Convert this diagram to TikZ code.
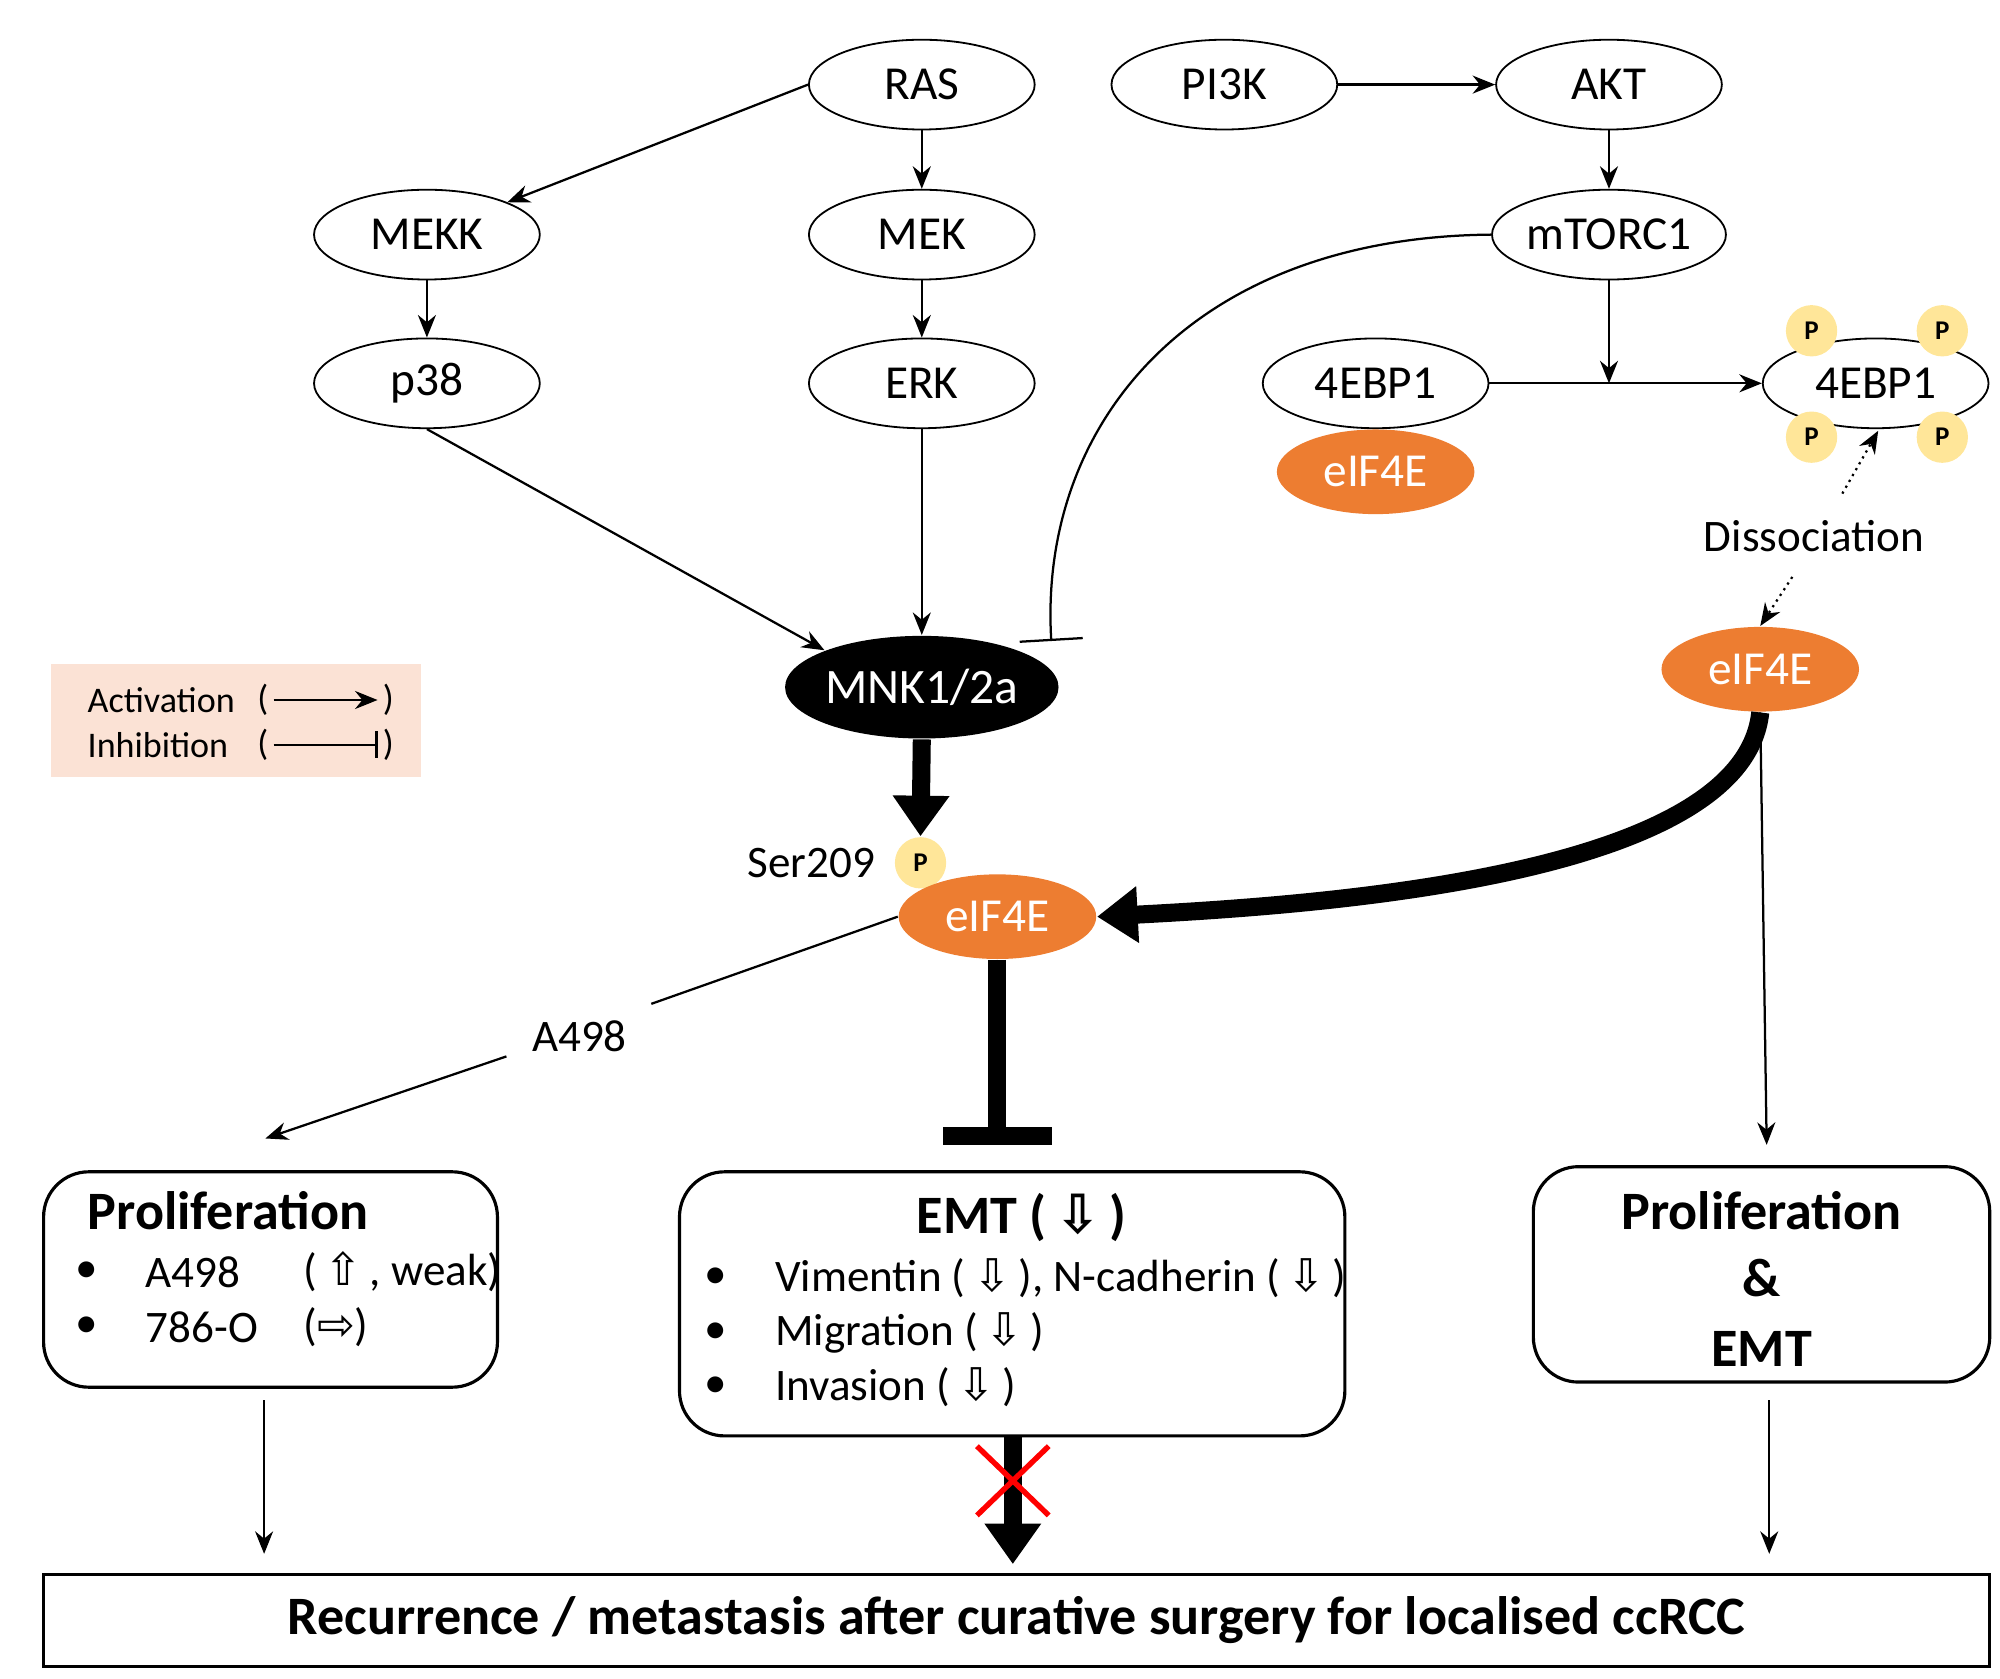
\documentclass[tikz,border=0pt]{standalone}
\usepackage{fontspec}
\setmainfont{Carlito}
\newfontfamily\dv{DejaVu Sans}
\usetikzlibrary{shapes.geometric,arrows.meta}
\definecolor{eor}{HTML}{ED7D31}
\definecolor{pyel}{HTML}{FFE699}
\definecolor{leg}{HTML}{FBE2D5}
\newcommand{\ua}{{\dv\char"21E7}}
\newcommand{\da}{{\dv\char"21E9}}
\newcommand{\ra}{{\dv\char"21E8}}
\begin{document}
\begin{tikzpicture}[x=0.01cm,y=-0.01cm,
  el/.style={ellipse,draw,minimum width=1.76cm,minimum height=0.7cm,font=\fontsize{10.5}{13}\selectfont,inner sep=0pt},
  eo/.style={ellipse,fill=eor,text=white,minimum width=1.54cm,minimum height=0.66cm,font=\fontsize{10.5}{13}\selectfont,inner sep=0pt},
  pc/.style={circle,fill=pyel,minimum size=0.4cm,inner sep=0pt,font=\fontsize{6}{7}\selectfont\bfseries\rmfamily},
  ar/.style={-{Stealth[length=5pt,width=4pt]},line width=0.5pt},
  thk/.style={line width=4pt},
  tx/.style={font=\fontsize{10}{12}\selectfont,inner sep=0pt},
  lt/.style={tx,anchor=west},
  box/.style={draw,rounded corners=10pt,line width=0.7pt}]
\useasboundingbox (0,0) rectangle (1560,1309);
% ellipses
\node[el] (ras) at (719,66) {RAS};
\node[el] (pi3k) at (955,66) {PI3K};
\node[el] (akt) at (1255,66) {AKT};
\node[el] (mekk) at (333,183) {MEKK};
\node[el] (mek) at (719,183) {MEK};
\node[el] (mtor) at (1255,183) {mTORC1};
\node[el] (p38) at (333,299) {p38};
\node[el] (erk) at (719,299) {ERK};
\node[el] (eb1) at (1073,299) {4EBP1};
\node[el] (eb2) at (1463,299) {4EBP1};
\node[eo] (e1) at (1073,368) {eIF4E};
\node[pc] (p1) at (1413,258) {P};
\node[pc] (p2) at (1515,258) {P};
\node[pc] (p3) at (1413,341) {P};
\node[pc] (p4) at (1515,341) {P};
\node[font=\fontsize{10}{12}\selectfont] (dis) at (1415,418) {Dissociation};
\node[eo] (e2) at (1373,522) {eIF4E};
\node[ellipse,fill=black,text=white,minimum width=2.12cm,minimum height=0.8cm,font=\fontsize{11}{13}\selectfont,inner sep=0pt] (mnk) at (719,536) {MNK1/2a};
\node[pc] (ps) at (718,673) {P};
\node[font=\fontsize{10}{12}\selectfont,anchor=east] (ser) at (695,673) {Ser209};
\node[eo] (e3) at (778,715) {eIF4E};
\node[font=\fontsize{10}{12}\selectfont] (a498) at (452,808) {A498};
% legend
\fill[leg] (40,518) rectangle (328,606);
\node[anchor=west,font=\fontsize{8}{10}\selectfont] (lact) at (56,546) {Activation};
\node[anchor=west,font=\fontsize{8}{10}\selectfont] (linh) at (56,581) {Inhibition};
\node[font=\fontsize{8}{10}\selectfont,inner sep=1pt] (lp1) at (205,546) {(};
\node[font=\fontsize{8}{10}\selectfont,inner sep=1pt] (lp2) at (303,546) {)};
\node[font=\fontsize{8}{10}\selectfont,inner sep=1pt] (lp3) at (205,581) {(};
\node[font=\fontsize{8}{10}\selectfont,inner sep=1pt] (lp4) at (303,581) {)};
\draw[ar] (lp1.east) -- (lp2.west);
\draw[line width=0.5pt,-{Bar[width=6pt]}] (lp3.east) -- (lp4.west);
% boxes
\draw[box] (34,914) rectangle (388,1082);
\node[anchor=west,font=\fontsize{12}{14}\selectfont\bfseries] (bl) at (56,944) {Proliferation};
\node[lt] (b1a) at (58,992) {•};
\node[lt] (b1b) at (113,992) {A498};
\node[lt] (b1c) at (236,992) {(\,\ua\,, weak)};
\node[lt] (b2a) at (58,1035) {•};
\node[lt] (b2b) at (113,1035) {786-O};
\node[lt] (b2c) at (236,1035) {(\ra)};
\draw[box] (530,914) rectangle (1049,1120);
\node[font=\fontsize{12}{14}\selectfont\bfseries] (bm) at (797,950) {EMT (\,\da\,)};
\node[lt] (m1a) at (549,997) {•};
\node[lt] (m1b) at (604,997) {Vimentin (\,\da\,), N-cadherin (\,\da\,)};
\node[lt] (m2a) at (549,1040) {•};
\node[lt] (m2b) at (604,1040) {Migration (\,\da\,)};
\node[lt] (m3a) at (549,1082) {•};
\node[lt] (m3b) at (604,1082) {Invasion (\,\da\,)};
\draw[box] (1196,910) rectangle (1552,1078);
\node[font=\fontsize{12}{14}\selectfont\bfseries] (br1) at (1374,944) {Proliferation};
\node[font=\fontsize{12}{14}\selectfont\bfseries] (br2) at (1374,997) {\&};
\node[font=\fontsize{12}{14}\selectfont\bfseries] (br3) at (1374,1052) {EMT};
\draw[line width=0.7pt] (34,1228) rectangle (1552,1300);
\node[font=\fontsize{12}{14}\selectfont\bfseries] (bot) at (793,1264) {Recurrence / metastasis after curative surgery for localised ccRCC};
% connectors
\draw[ar] (ras.west) -- (mekk.north east);
\draw[ar] (ras) -- (mek);
\draw[ar] (mekk) -- (p38);
\draw[ar] (mek) -- (erk);
\draw[ar] (pi3k) -- (akt);
\draw[ar] (akt) -- (mtor);
\coordinate (j) at (1255,299);
\draw[ar] (mtor) -- (j);
\draw[ar] (eb1) -- (eb2);
\draw[line width=0.5pt,-{Bar[width=14pt]}] (mtor.west) .. controls (930,185) and (810,330) .. (820,500);
\draw[ar] (p38.south) -- (mnk.north west);
\draw[ar] (erk) -- (mnk);
\draw[thk,-{Triangle[length=9pt,width=12pt]}] (mnk.south) -- (ps.north);
\draw[thk,-{Triangle[length=9pt,width=12pt]}] (e2.south) .. controls (1360,680) and (1050,705) .. (e3.east);
\coordinate (rt) at (1378,893);
\draw[ar] (e2.south) -- (rt);
\draw[ar,densely dotted] (1437,385) -- (1465,336);
\draw[ar,densely dotted] (1398,450) -- (e2.north);
\draw[line width=0.5pt] (e3.west) -- (508,783);
\coordinate (pl) at (207,888);
\draw[ar] (395,824) -- (pl);
\draw[thk,-{Bar[width=24pt]}] (e3.south) -- (778,893);
\coordinate (lb) at (206,1212);
\draw[ar] (206,1092) -- (lb);
\coordinate (rb) at (1380,1212);
\draw[ar] (1380,1092) -- (rb);
\coordinate (mb) at (790,1220);
\draw[thk,-{Triangle[length=9pt,width=12pt]}] (790,1120) -- (mb);
\draw[red,line width=1.2pt] (762,1128) -- (818,1182) (818,1128) -- (762,1182);
\end{tikzpicture}
\end{document}
